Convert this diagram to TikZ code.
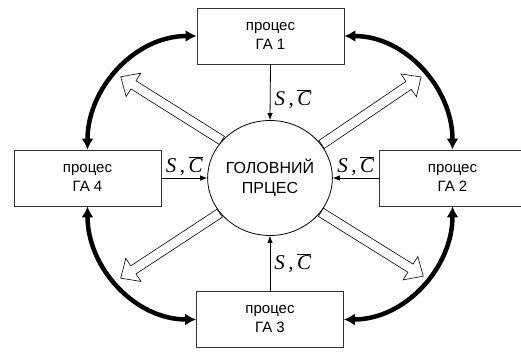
\documentclass[tikz,border=0pt]{standalone}
\usepackage{fontspec}
\setmainfont{Liberation Sans}
\newfontfamily\tms{Liberation Serif}
\usetikzlibrary{arrows.meta,calc,shapes.geometric,shapes.arrows}
\newcommand{\scpair}{{\tms\itshape S}\,{\tms ,}\,$\overline{\hbox{\tms\itshape C}}$}

\begin{document}
\begin{tikzpicture}[x=1pt,y=1pt]
  \tikzstyle{proc}=[rectangle,draw=black!80,line width=0.8pt,minimum width=147pt,minimum height=56pt,align=center,font=\fontsize{15}{19}\selectfont]
  \tikzstyle{main}=[ellipse,draw,line width=0.8pt,minimum width=110pt,minimum height=115pt,inner sep=0pt,align=center,font=\fontsize{16}{20}\selectfont]
  \tikzstyle{link}=[line width=0.8pt,-{Latex[length=7pt,width=5.5pt]}]
  \tikzstyle{lbl}=[font=\fontsize{21}{24}\selectfont,inner sep=1pt]
  \tikzstyle{sync}=[line width=4.5pt,{Latex[length=11pt,width=12pt]}-{Latex[length=11pt,width=12pt]}]
  \tikzstyle{hollow}=[single arrow,draw,fill=white,line width=0.6pt,inner sep=4.5pt,single arrow head extend=9pt,single arrow tip angle=85,anchor=tail]
  \useasboundingbox (0,0) rectangle (521,352);
  \clip (0,0) rectangle (521,352);
  \node[main] (head) at (270,174) {ГОЛОВНИЙ\\ПРЦЕС};
  \node[proc] (ga1) at (270.5,316) {процес\\ГА 1};
  \node[proc] (ga2) at (452.5,174) {процес\\ГА 2};
  \node[proc] (ga3) at (270,32.5) {процес\\ГА 3};
  \node[proc] (ga4) at (87.5,174) {процес\\ГА 4};
  % ends of the hollow arrows
  \coordinate (tl) at (121,275);
  \coordinate (tr) at (421,275);
  \coordinate (bl) at (121,74);
  \coordinate (br) at (423,76);
  \foreach \a/\t in {142/tl,33/tr,215/bl,326/br}{
    \path let \p1=($(\t)-(head.\a)$), \n1={atan2(\y1,\x1)}, \n2={veclen(\x1,\y1)} in
      node[hollow,rotate=\n1,minimum height=\n2] (h\t) at (head.\a) {};
  }
  \draw[sync] (ga1.west) to[out=180,in=90] (ga4.north);
  \draw[sync] (ga1.east) to[out=0,in=90] (ga2.north);
  \draw[sync] (ga4.south) to[out=270,in=180] (ga3.west);
  \draw[sync] (ga2.south) to[out=270,in=0] (ga3.east);
  \draw[link] (ga1.south) -- node[lbl,pos=0.62,right=3pt] {\scpair} (head.north);
  \draw[link] (ga3.north) -- node[lbl,pos=0.5,right=3pt] {\scpair} (head.south);
  \draw[link] (ga4.east) -- node[lbl,midway,above=1pt] {\scpair} (head.west);
  \draw[link] (ga2.west) -- node[lbl,midway,above=1pt] {\scpair} (head.east);
\end{tikzpicture}
\end{document}
